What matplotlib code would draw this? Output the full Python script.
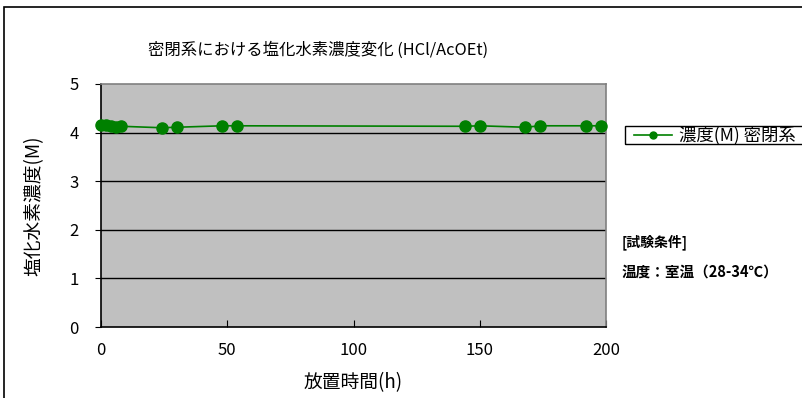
import matplotlib
matplotlib.use("Agg")

import matplotlib.pyplot as plt
from matplotlib.patches import Rectangle

plt.rcParams['font.family'] = ['Noto Sans CJK JP', 'DejaVu Sans']

# ------------------------------------------------------------
# DATA
# ------------------------------------------------------------
hours = [0, 2, 4, 6, 8, 24, 30, 48, 54, 144, 150, 168, 174, 192, 198]
conc = [4.16, 4.15, 4.13, 4.12, 4.13, 4.10, 4.11, 4.14, 4.14,
        4.13, 4.14, 4.11, 4.14, 4.14, 4.14]

title = "密閉系における塩化水素濃度変化 (HCl/AcOEt)"
series_name = "濃度(M) 密閉系"
x_label = "放置時間(h)"
y_label = "塩化水素濃度(M)"
x_ticks = [0, 50, 100, 150, 200]
y_ticks = [0, 1, 2, 3, 4, 5]
note_title = "[試験条件]"
note_text = "温度：室温（28-34℃）"

# ------------------------------------------------------------
# FIGURE
# ------------------------------------------------------------
fig = plt.figure(figsize=(8.02, 3.98), dpi=100)
fig.patch.set_facecolor("white")

# outer chart border
fig.patches.append(Rectangle((4 / 802, -0.01), 1.0, 1 - 7 / 398 + 0.01,
                             transform=fig.transFigure, fill=False,
                             edgecolor="black", linewidth=1.2))

ax = fig.add_axes([101 / 802, 1 - 327 / 398, 505 / 802, 243 / 398])
ax.set_facecolor("#C0C0C0")

ax.plot(hours, conc, color="#008000", linewidth=1.2,
        marker="o", markersize=8, markerfacecolor="#008000",
        markeredgecolor="#008000", zorder=3, clip_on=False)

ax.set_xlim(0, 200)
ax.set_ylim(0, 5)
ax.set_xticks(x_ticks)
ax.set_yticks(y_ticks)

# horizontal grid lines
for y in y_ticks[1:-1]:
    ax.axhline(y, color="black", linewidth=1.0, zorder=1)

for s in ["left", "bottom"]:
    ax.spines[s].set_color("black")
    ax.spines[s].set_linewidth(1.2)
for s in ["top", "right"]:
    ax.spines[s].set_color("#808080")
    ax.spines[s].set_linewidth(1.2)

ax.tick_params(axis="x", direction="in", length=5, labelsize=12, pad=11)
ax.tick_params(axis="y", direction="out", length=4, labelsize=12, pad=12)

ax.set_xlabel(x_label, fontsize=13.5, labelpad=9)
ax.set_ylabel(y_label, fontsize=13.5, labelpad=18)

fig.text(318 / 802, 1 - 50 / 398, title, fontsize=11.8,
         ha="center", va="center")

# legend box
fig.patches.append(Rectangle((625 / 802, 1 - 144 / 398), 200 / 802, 18 / 398,
                             transform=fig.transFigure, fill=False,
                             edgecolor="black", linewidth=1.0))
fig.lines.append(plt.Line2D([634 / 802, 672 / 802], [1 - 135 / 398] * 2,
                            transform=fig.transFigure, color="#008000",
                            linewidth=1.2))
fig.lines.append(plt.Line2D([653 / 802], [1 - 135 / 398],
                            transform=fig.transFigure, color="#008000",
                            marker="o", markersize=5))
fig.text(679 / 802, 1 - 135 / 398, series_name, fontsize=12.5,
         ha="left", va="center")

# test conditions
fig.text(622 / 802, 1 - 242 / 398, note_title, fontsize=10,
         fontweight="bold", ha="left", va="center")
fig.text(622 / 802, 1 - 272 / 398, note_text, fontsize=10.5,
         fontweight="bold", ha="left", va="center")

fig.savefig("out.png", dpi=100)
